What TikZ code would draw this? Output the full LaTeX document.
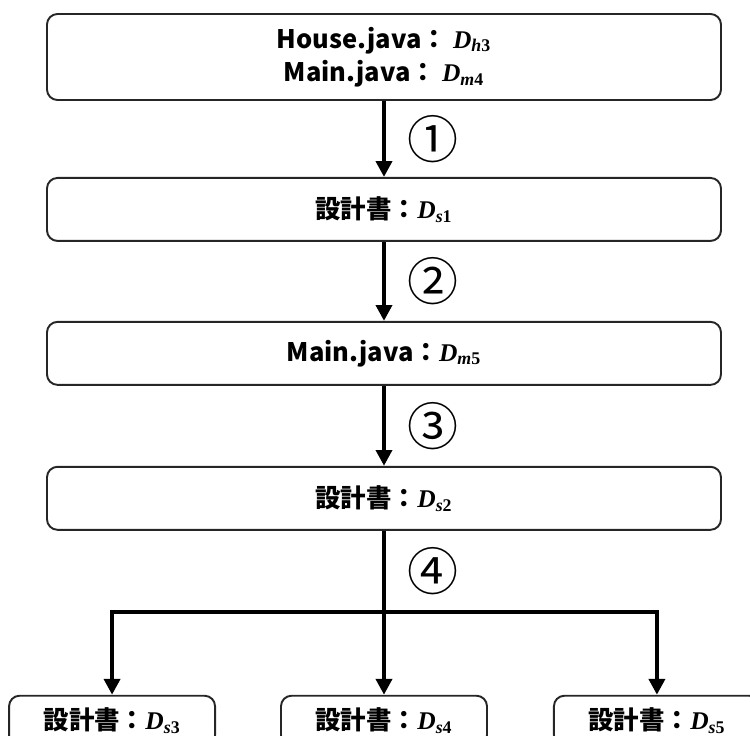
\documentclass[tikz,border=0pt]{standalone}
\usepackage{fontspec}
\newfontfamily\jp{Noto Sans CJK JP}
\newfontfamily\mathser{Liberation Serif}
\usetikzlibrary{positioning,arrows.meta}
\newcommand{\dd}[2]{{\mathser\bfseries\itshape D\textsubscript{#1\upshape #2}}}

\begin{document}
\begin{tikzpicture}[
  every node/.style={font=\jp\bfseries\fontsize{14.5}{19}\selectfont},
  doc/.style={draw=black!85, line width=1.1pt, rounded corners=6pt, minimum width=13.48cm, minimum height=1.26cm, align=center},
  leaf/.style={doc, minimum width=4.12cm, minimum height=1.0cm},
  flow/.style={-{Triangle[width=9pt,length=9pt]}, line width=2.3pt},
  link/.style={line width=2.3pt},
  num/.style={font=\jp\fontsize{29}{30}\selectfont, inner sep=0pt, right=0.42cm}]

\useasboundingbox (-7.68,1.14) rectangle (7.32,-13.58);

\node[doc, minimum height=1.72cm] (house) {House.java： \dd{h}{3}\\Main.java： \dd{m}{4}};
\node[doc, below=1.52cm of house] (ds1) {設計書：\dd{s}{1}};
\node[doc, below=1.58cm of ds1] (main) {Main.java：\dd{m}{5}};
\node[doc, below=1.6cm of main] (ds2) {設計書：\dd{s}{2}};
\coordinate[below=1.62cm of ds2.south] (split);
\node[leaf, below=1.66cm of split, anchor=north] (ds4) {設計書：\dd{s}{4}};
\node[leaf, left=1.28cm of ds4] (ds3) {設計書：\dd{s}{3}};
\node[leaf, right=1.3cm of ds4] (ds5) {設計書：\dd{s}{5}};

\draw[flow] (house) -- node[num] {①} (ds1);
\draw[flow] (ds1) -- node[num] {②} (main);
\draw[flow] (main) -- node[num] {③} (ds2);
\draw[link] (ds2) -- node[num] {④} (split);
\draw[flow] (split) -- (ds4);
\draw[flow] (split) -| (ds3);
\draw[flow] (split) -| (ds5);
\end{tikzpicture}
\end{document}
